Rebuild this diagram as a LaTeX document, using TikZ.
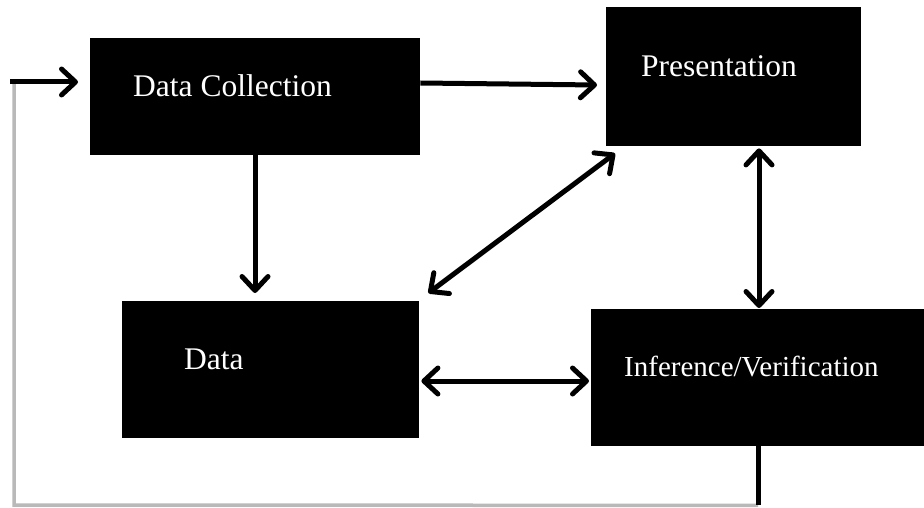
\documentclass[tikz,border=0pt]{standalone}
\usepackage{fontspec}
\setmainfont{Liberation Serif}
\usetikzlibrary{arrows.meta,calc}
\begin{document}
\begin{tikzpicture}[x=1pt,y=-1pt,
  box/.style={rectangle, fill=black, draw=none, inner sep=0pt, anchor=north west},
  lbl/.style={text=white, font=\fontsize{31.5}{36}\selectfont, anchor=base west, inner sep=0pt},
  barb/.tip={Straight Barb[length=14pt,width=26pt,line width=5pt,line cap=round,line join=round]},
  conn/.style={line width=5pt, -barb},
  bidir/.style={line width=5pt, barb-barb},
  plain/.style={line width=5pt},
  loopline/.style={line width=3.5pt, draw=gray!55}]
\useasboundingbox (0,0) rectangle (924,508);
\fill[white] (0,0) rectangle (924,508);
% boxes
\node[box, minimum width=330pt, minimum height=117pt] (dc) at (90,38) {};
\node[box, minimum width=255pt, minimum height=139pt] (pr) at (606,7) {};
\node[box, minimum width=297pt, minimum height=137pt] (da) at (122,301) {};
\node[box, minimum width=333pt, minimum height=137pt] (inf) at (591,309) {};
% labels
\node[lbl] (tdc) at (133,97) {Data Collection};
\node[lbl] (tpr) at (641,77) {Presentation};
\node[lbl] (tda) at (184,369) {Data};
\node[lbl, font=\fontsize{29}{34}\selectfont] (tinf) at (624,376) {Inference/Verification};
% connectors
\draw[conn] ($(dc.north east)+(0,45)$) -- ($(pr.north west)+(-9,78)$);
\draw[conn] ($(dc.south west)+(165,0)$) -- ($(da.north west)+(133,-8)$);
\draw[bidir] ($(pr.south west)+(9,7)$) -- ($(da.north east)+(9,-8)$);
\draw[bidir] ($(pr.south west)+(153,2)$) -- ($(inf.north west)+(168,-1)$);
\draw[bidir] ($(da.north east)+(2,80)$) -- ($(inf.north west)+(-2,72)$);
% feedback loop
\coordinate (lb) at ($(inf.south west)+(167,59)$);
\coordinate (lc) at (14,505);
\coordinate (lt) at (14,82);
\coordinate (ls) at (10,82);
\draw[loopline] (lb) -- (lc) -- (lt);
\draw[plain] ($(inf.south west)+(167,0)$) -- (lb);
\draw[conn] (ls) -- ($(dc.north west)+(-12,44)$);
\end{tikzpicture}
\end{document}
